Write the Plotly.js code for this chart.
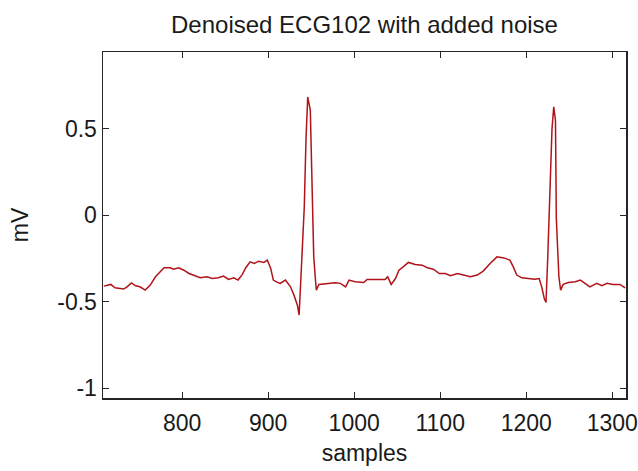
<!DOCTYPE html>
<html>
<head>
<meta charset="utf-8">
<script src="https://cdn.plot.ly/plotly-3.0.1.min.js"></script>
<style>
  html, body { margin: 0; padding: 0; background: #ffffff; }
  #plot { width: 638px; height: 471px; }
</style>
</head>
<body>
<div id="plot"></div>
<script>
// Denoised ECG record 102 segment (sample index vs. millivolts)
const samples = [
  709, 717, 722, 732, 736, 741, 746, 751, 757, 763, 769, 775, 779, 786, 790, 796,
  802, 808, 815, 821, 829, 835, 842, 848, 854, 860, 865, 870, 874, 879, 884, 889,
  895, 899, 903, 906, 912, 914, 920, 926, 930, 934, 936, 939, 942, 944, 946, 949,
  951, 953, 955, 956, 959, 970, 978, 984, 990, 994, 1001, 1011, 1015, 1025, 1036, 1039,
  1043, 1048, 1052, 1057, 1063, 1071, 1079, 1085, 1092, 1099, 1106, 1112, 1120, 1127, 1135, 1143,
  1150, 1158, 1166, 1174, 1181, 1185, 1189, 1195, 1203, 1210, 1215, 1218, 1221, 1223, 1225, 1227,
  1230, 1232, 1234, 1235, 1238, 1240, 1242, 1243, 1249, 1257, 1263, 1269, 1274, 1282, 1288, 1294,
  1301, 1309, 1315
];
const millivolts = [
  -0.410, -0.400, -0.420, -0.427, -0.414, -0.391, -0.408, -0.414, -0.433, -0.404, -0.356, -0.327, -0.304, -0.304, -0.312, -0.304,
  -0.318, -0.337, -0.352, -0.362, -0.356, -0.366, -0.362, -0.352, -0.371, -0.362, -0.375, -0.342, -0.304, -0.270, -0.279, -0.266,
  -0.273, -0.260, -0.308, -0.375, -0.391, -0.394, -0.375, -0.414, -0.462, -0.520, -0.577, -0.289, 0.048, 0.442, 0.682, 0.606,
  0.221, -0.241, -0.375, -0.433, -0.400, -0.394, -0.391, -0.394, -0.414, -0.375, -0.385, -0.389, -0.371, -0.371, -0.371, -0.356,
  -0.400, -0.366, -0.318, -0.299, -0.273, -0.285, -0.289, -0.304, -0.312, -0.337, -0.337, -0.350, -0.337, -0.346, -0.356, -0.346,
  -0.323, -0.279, -0.241, -0.247, -0.260, -0.299, -0.346, -0.362, -0.366, -0.370, -0.366, -0.414, -0.481, -0.504, -0.250, 0.048,
  0.500, 0.625, 0.548, -0.019, -0.356, -0.433, -0.404, -0.400, -0.389, -0.385, -0.375, -0.394, -0.414, -0.394, -0.408, -0.394,
  -0.400, -0.400, -0.420
];

const xTickVals = [800, 900, 1000, 1100, 1200, 1300];
const xTickText = ['800', '900', '1000', '1100', '1200', '1300'];
const yTickVals = [-1, -0.5, 0, 0.5];
const yTickText = ['-1', '-0.5', '0', '0.5'];

const FONT = 'Liberation Sans, Arial, Helvetica, sans-serif';
const INK = '#262626';

const trace = {
  x: samples,
  y: millivolts,
  type: 'scatter',
  mode: 'lines',
  line: { color: '#b0141a', width: 1.5 },
  hoverinfo: 'skip'
};

const axisCommon = {
  showline: true,
  linecolor: INK,
  linewidth: 1.5,
  mirror: 'ticks',
  ticks: 'inside',
  ticklen: 6,
  tickwidth: 1,
  tickcolor: INK,
  showgrid: false,
  zeroline: false,
  tickfont: { family: FONT, size: 23, color: '#1a1a1a' }
};

const layout = {
  width: 638,
  height: 471,
  paper_bgcolor: '#ffffff',
  plot_bgcolor: '#ffffff',
  margin: { l: 103, r: 12, t: 52, b: 73 },
  showlegend: false,
  title: {
    text: 'Denoised ECG102 with added noise',
    font: { family: FONT, size: 24, color: '#1a1a1a' },
    x: 0.5, xref: 'paper', xanchor: 'center',
    y: 0.947, yref: 'container', yanchor: 'middle'
  },
  xaxis: Object.assign({}, axisCommon, {
    range: [708, 1316],
    tickmode: 'array',
    tickvals: xTickVals,
    ticktext: xTickText,
    ticklabelstandoff: 4,
    title: { text: 'samples', font: { family: FONT, size: 23, color: '#1a1a1a' }, standoff: 10 }
  }),
  yaxis: Object.assign({}, axisCommon, {
    range: [-1.056, 0.942],
    tickmode: 'array',
    tickvals: yTickVals,
    ticktext: yTickText,
    title: { text: 'mV', font: { family: FONT, size: 23, color: '#1a1a1a' }, standoff: 22 }
  })
};

Plotly.newPlot('plot', [trace], layout, { staticPlot: true, displayModeBar: false });
</script>
</body>
</html>
